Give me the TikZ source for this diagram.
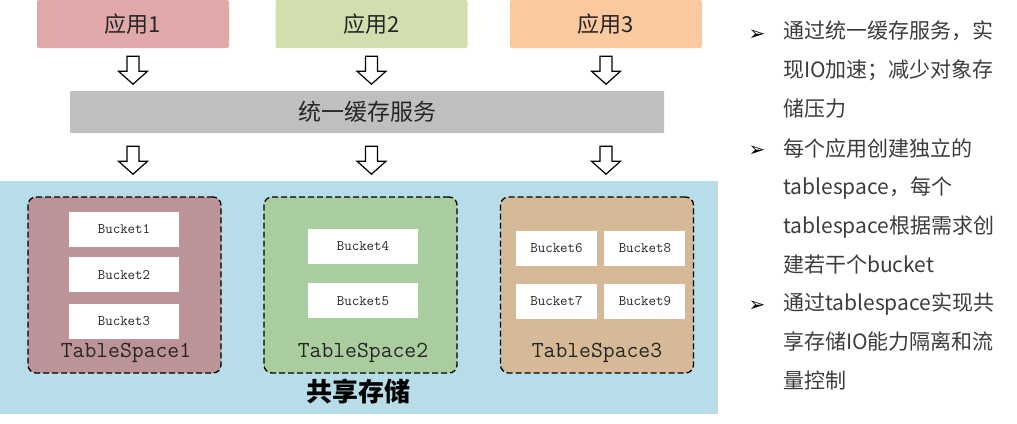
\documentclass[tikz,border=0pt]{standalone}
\usepackage{fontspec}
\setmainfont{Noto Sans CJK SC}
\newfontfamily\symfont{DejaVu Sans}
\usetikzlibrary{calc}
\usetikzlibrary{positioning}
\definecolor{appA}{HTML}{E0A8A8}
\definecolor{appB}{HTML}{D1DFAF}
\definecolor{appC}{HTML}{FAC9A0}
\definecolor{cachegray}{HTML}{BFBFBF}
\definecolor{storeblue}{HTML}{B7DEE8}
\definecolor{tsA}{HTML}{BC9497}
\definecolor{tsB}{HTML}{AACDA0}
\definecolor{tsC}{HTML}{D6B996}
\definecolor{txt}{HTML}{262626}

\begin{document}
\begin{tikzpicture}[x=1pt,y=-1pt,
  appbox/.style={rounded corners=2pt,minimum width=192pt,minimum height=48pt,text=txt,font=\fontsize{22}{22}\selectfont},
  tsbox/.style={draw=black,line width=1.3pt,dash pattern=on 6pt off 3pt,rounded corners=8pt,minimum width=193pt,minimum height=176pt},
  bucket/.style={fill=white,minimum height=35pt,text=txt,font=\ttfamily\fontsize{14.5}{14.5}\selectfont},
  tslabel/.style={text=txt,font=\ttfamily\fontsize{23}{23}\selectfont},
  note/.style={anchor=north west,inner sep=0pt,align=left,text=txt!90,font=\fontsize{21}{38.8}\selectfont},
  dot/.style={text=black,font=\symfont\fontsize{20}{20}\selectfont},
  blkarrow/.pic={\draw[fill=white,line width=1.2pt,line join=miter] (-6,0) -- (6,0) -- (6,15) -- (14.5,15) -- (0,28) -- (-14.5,15) -- (-6,15) -- cycle;}]
\useasboundingbox (0,0) rectangle (1017,423);

\node[appbox,fill=appA] (app1) at (133,24) {应用1};
\node[appbox,fill=appB] (app2) at (371.5,24) {应用2};
\node[appbox,fill=appC] (app3) at (606,24) {应用3};

\node[fill=cachegray,rounded corners=1pt,minimum width=594pt,minimum height=42pt,text=txt,font=\fontsize{23}{23}\selectfont] (cache) at (367,112) {统一缓存服务};

\foreach \a in {app1,app2,app3}{
  \pic at ($(\a.south)+(0,8)$) {blkarrow};
  \pic at ($(\a.south |- cache.south)+(0,13)$) {blkarrow};
}

\node[fill=storeblue,minimum width=718pt,minimum height=233pt] (store) at (359,297.5) {};
\node[text=black,font=\bfseries\fontsize{26}{26}\selectfont] (storelabel) at (358,392) {共享存储};

\node[tsbox,fill=tsA] (ts1) at (124.5,285) {};
\node[tsbox,fill=tsB] (ts2) at (360.5,285) {};
\node[tsbox,fill=tsC] (ts3) at (597,285) {};
\node[tslabel] (tsl1) at (126,353) {TableSpace1};
\node[tslabel] (tsl2) at (363,353) {TableSpace2};
\node[tslabel] (tsl3) at (597,353) {TableSpace3};

\node[bucket,minimum width=110pt] (bk1) at (124,229.5) {Bucket1};
\node[bucket,minimum width=110pt,below=10pt of bk1] (bk2) {Bucket2};
\node[bucket,minimum width=110pt,below=11pt of bk2] (bk3) {Bucket3};

\node[bucket,minimum width=110pt] (bk4) at (363,246.5) {Bucket4};
\node[bucket,minimum width=110pt,below=19pt of bk4] (bk5) {Bucket5};

\node[bucket,minimum width=81pt] (bk6) at (556.5,248) {Bucket6};
\node[bucket,minimum width=81pt,below=18pt of bk6] (bk7) {Bucket7};
\node[bucket,minimum width=81pt,right=7pt of bk6] (bk8) {Bucket8};
\node[bucket,minimum width=81pt,right=7pt of bk7] (bk9) {Bucket9};

\node[dot] (d1) at (757,35) {➢};
\node[dot] (d2) at (757,151) {➢};
\node[dot] (d3) at (757,306) {➢};
\node[note] (n1) at (783,21) {通过统一缓存服务，实\\现IO加速；减少对象存\\储压力};
\node[note] (n2) at (783,138) {每个应用创建独立的\\tablespace，每个\\tablespace根据需求创\\建若干个bucket};
\node[note] (n3) at (783,293) {通过tablespace实现共\\享存储IO能力隔离和流\\量控制};

\end{tikzpicture}
\end{document}
